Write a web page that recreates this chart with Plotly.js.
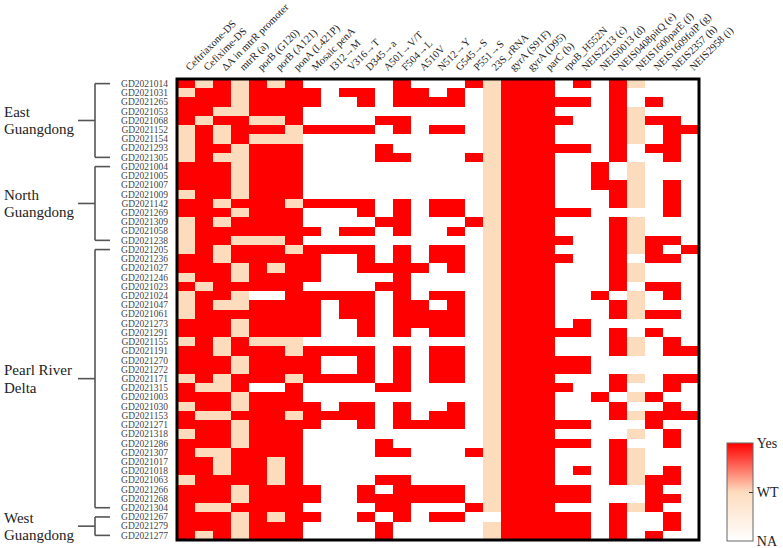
<!DOCTYPE html>
<html>
<head>
<meta charset="utf-8">
<script src="https://cdn.plot.ly/plotly-3.0.1.min.js"></script>
<style>html,body{margin:0;padding:0;background:#fff;}#chart{width:783px;height:548px;}</style>
</head>
<body>
<div id="chart"></div>
<script>
// Column (feature) labels
const features = ["Ceftriaxone-DS","Cefixime-DS","\u0394A in mtrR promoter","mtrR (a)","porB (G120)","porB (A121)","ponA (L421P)","Mosaic penA","I312\u2192M","V316\u2192T","D345\u2192a","A501\u2192V/T","F504\u2192L","A510V","N512\u2192Y","G545\u2192S","P551\u2192S","23S_rRNA","gyrA (S91F)","gyrA (D95)","parC (b)","rpoB_H552N","NEIS2213 (c)","NEIS0013 (d)","NEIS0408pitQ (e)","NEIS1600parE (f)","NEIS1609folP (g)","NEIS2357 (h)","NEIS2958 (i)"];

// Sample labels per region
const eastSamples = ["GD2021014","GD2021031","GD2021265","GD2021053","GD2021068","GD2021152","GD2021154","GD2021293","GD2021305"];
const northSamples = ["GD2021004","GD2021005","GD2021007","GD2021009","GD2021142","GD2021269","GD2021309","GD2021058","GD2021238"];
const pearlSamples = ["GD2021205","GD2021236","GD2021027","GD2021246","GD2021023","GD2021024","GD2021047","GD2021061","GD2021273","GD2021291","GD2021155","GD2021191","GD2021270","GD2021272","GD2021171","GD2021315","GD2021003","GD2021030","GD2021153","GD2021271","GD2021318","GD2021286","GD2021307","GD2021017","GD2021018","GD2021063","GD2021266","GD2021268","GD2021304"];
const westSamples = ["GD2021267","GD2021279","GD2021277"];

// Values: 1 = Yes, 0.5 = WT, 0 = NA
const eastValues = [
[1,.5,1,.5,1,.5,1, 0,0,0,0,0,1,0,0,0,1, .5, 1,1,1, 0,1,0,1,.5,0,0,0],
[.5,1,1,.5,1,1,1, 1,0,1,1,0,1,1,0,1,0, .5, 1,1,1, 0,0,0,1,0,0,0,0],
[1,1,1,.5,1,1,1, 1,0,0,1,0,1,1,1,1,0, .5, 1,1,1, 1,1,0,1,0,1,0,0],
[1,1,.5,.5,1,1,1, 0,0,0,0,0,0,0,0,0,0, .5, 1,1,1, 0,0,0,1,.5,0,0,0],
[1,.5,1,1,.5,.5,1, 0,0,0,0,1,1,0,0,0,0, .5, 1,1,1, 1,0,0,1,.5,1,1,0],
[.5,1,.5,1,1,1,.5, 1,1,1,1,0,1,0,1,1,0, .5, 1,1,1, 0,0,0,1,.5,0,1,1],
[.5,1,.5,1,.5,.5,.5, 0,0,0,0,0,0,0,0,0,0, .5, 1,1,1, 0,0,0,1,.5,0,1,0],
[.5,1,1,.5,1,1,1, 0,0,0,0,1,0,0,0,0,0, .5, 1,1,1, 1,1,0,1,0,1,1,0],
[.5,1,.5,.5,1,1,1, 0,0,0,0,1,1,0,0,0,1, .5, 1,1,1, 0,0,0,1,0,0,1,0]
];
const northValues = [
[1,1,1,.5,1,1,1, 0,0,0,0,0,0,0,0,0,0, .5, 1,1,1, 0,0,1,0,.5,0,0,0],
[1,1,1,.5,1,1,1, 0,0,0,0,0,0,0,0,0,0, .5, 1,1,1, 0,0,1,0,.5,0,0,0],
[1,1,1,.5,1,1,1, 0,0,0,0,0,0,0,0,0,0, .5, 1,1,1, 0,0,1,1,.5,0,1,0],
[.5,1,1,.5,1,1,1, 0,0,0,0,0,0,0,0,0,0, .5, 1,1,1, 0,0,0,1,.5,0,1,0],
[1,1,.5,1,1,1,.5, 1,1,1,1,0,1,0,1,1,0, .5, 1,1,1, 0,0,0,1,.5,0,1,0],
[1,1,1,.5,1,1,1, 0,0,0,1,0,1,0,1,1,0, .5, 1,1,1, 1,1,0,0,0,0,1,0],
[.5,1,.5,1,1,1,1, 0,0,0,0,1,1,0,0,0,1, .5, 1,1,1, 0,0,0,1,.5,0,0,0],
[.5,1,1,1,1,1,1, 1,0,1,1,0,1,0,0,1,0, .5, 1,1,1, 0,0,0,1,.5,0,0,0],
[.5,1,1,.5,.5,.5,1, 0,0,0,0,0,0,0,0,0,0, .5, 1,1,1, 1,0,0,1,.5,1,1,0]
];
const pearlValues = [
[.5,1,.5,1,1,1,.5, 1,1,1,1,0,1,0,1,1,0, .5, 1,1,1, 0,0,0,1,.5,1,0,1],
[1,1,.5,1,1,1,1, 1,0,0,1,0,1,0,1,1,0, .5, 1,1,1, 1,0,0,1,0,1,1,0],
[1,1,1,.5,1,.5,1, 1,0,0,1,1,1,1,0,1,0, .5, 1,1,1, 0,0,0,1,.5,0,0,0],
[.5,1,1,.5,1,1,1, 1,0,0,0,0,1,0,0,0,0, .5, 1,1,1, 0,0,0,1,.5,0,0,0],
[1,.5,1,1,1,1,1, 0,0,0,0,1,1,0,0,0,0, .5, 1,1,1, 0,0,0,1,0,1,1,0],
[.5,1,1,.5,0,0,1, 1,1,1,1,0,1,0,1,1,0, .5, 1,1,1, 0,0,1,0,.5,0,1,0],
[.5,1,.5,.5,1,1,1, 1,0,1,1,0,1,1,0,1,0, .5, 1,1,1, 0,0,0,1,.5,0,0,0],
[.5,1,1,1,1,1,1, 1,0,1,1,0,1,1,1,1,0, .5, 1,1,1, 0,0,0,1,.5,1,1,0],
[1,1,1,.5,1,1,1, 1,0,0,1,0,1,1,1,1,0, .5, 1,1,1, 0,1,0,0,0,0,0,0],
[1,1,1,.5,1,1,1, 1,0,0,1,0,1,0,1,1,0, .5, 1,1,1, 1,1,0,1,0,1,0,0],
[.5,1,.5,1,.5,.5,.5, 0,0,0,0,0,0,0,0,0,0, .5, 1,1,1, 0,0,0,1,.5,0,1,0],
[1,1,.5,1,1,1,.5, 1,1,1,1,0,1,0,1,1,0, .5, 1,1,1, 0,0,0,1,.5,0,1,1],
[1,1,1,.5,1,1,1, 1,0,0,1,0,1,0,1,1,0, .5, 1,1,1, 1,1,0,0,0,0,0,0],
[1,1,1,.5,1,1,1, 1,0,0,1,0,1,0,1,1,0, .5, 1,1,1, 1,1,0,0,0,0,0,0],
[.5,1,.5,1,1,1,.5, 1,1,1,1,0,1,0,1,1,0, .5, 1,1,1, 0,0,0,1,.5,0,1,1],
[1,.5,.5,1,0,0,1, 0,0,0,0,1,1,0,0,0,0, .5, 1,1,1, 1,0,0,1,0,0,1,0],
[1,1,1,.5,1,1,1, 0,0,0,0,0,0,0,0,0,0, .5, 1,1,1, 0,0,1,0,.5,1,0,0],
[.5,1,1,.5,1,1,1, 1,0,1,1,0,1,0,0,1,0, .5, 1,1,1, 0,0,0,1,0,0,1,0],
[1,.5,.5,1,1,1,.5, 1,1,1,1,0,1,0,1,1,0, .5, 1,1,1, 0,0,0,1,.5,1,1,1],
[1,1,1,.5,1,1,1, 1,0,0,1,0,1,1,1,1,0, .5, 1,1,1, 1,1,0,0,0,1,0,0],
[.5,1,1,.5,1,1,1, 0,0,0,0,0,0,0,0,0,0, .5, 1,1,1, 0,0,0,0,.5,0,1,0],
[1,1,1,.5,1,1,1, 0,0,0,0,1,0,0,0,0,0, .5, 1,1,1, 1,1,0,1,0,0,1,0],
[1,.5,.5,1,1,1,1, 0,0,0,0,1,1,0,0,0,1, .5, 1,1,1, 0,0,0,1,.5,0,0,0],
[1,1,.5,1,1,.5,1, 0,0,0,0,0,0,0,0,0,0, .5, 1,1,1, 0,0,0,1,.5,0,0,0],
[1,1,.5,1,1,.5,1, 0,0,0,0,0,0,0,0,0,0, .5, 1,1,1, 0,1,0,1,.5,0,1,0],
[.5,1,1,1,1,.5,1, 0,0,0,0,1,1,0,0,0,0, .5, 1,1,1, 0,0,0,1,.5,1,1,0],
[1,1,1,.5,1,1,1, 1,0,0,1,0,1,1,1,1,0, .5, 1,1,1, 1,1,0,0,0,1,0,0],
[1,1,1,.5,1,1,1, 1,0,0,1,1,1,1,1,1,0, .5, 1,1,1, 1,1,0,0,0,1,1,0],
[1,.5,.5,1,1,1,1, 0,0,0,0,1,1,0,0,0,1, .5, 1,1,1, 0,0,0,1,.5,1,0,0]
];
const westValues = [
[1,1,1,.5,1,.5,1, 1,0,0,1,0,1,0,1,1,0, 0, 1,1,1, 1,1,0,1,0,0,1,0],
[1,1,1,.5,1,1,1, 0,0,0,0,1,0,0,0,0,0, .5, 1,1,1, 1,1,0,1,0,0,1,0],
[1,.5,1,.5,1,1,1, 0,0,0,0,1,0,0,0,0,0, .5, 1,1,1, 1,1,0,1,0,1,0,0]
];

const regionNames = [["East","Guangdong"],["North","Guangdong"],["Pearl River","Delta"],["West","Guangdong"]];
const legendLabels = ["NA","WT","Yes"];

const groups = [eastSamples, northSamples, pearlSamples, westSamples];
const samples = [].concat(eastSamples, northSamples, pearlSamples, westSamples);
const z = [].concat(eastValues, northValues, pearlValues, westValues);
const rowIdx = samples.map((s,i)=>i);
const colIdx = features.map((f,i)=>i);

const serif = '"Liberation Serif","Times New Roman",Times,serif';
const W = 783, H = 548, mL = 177, mR = 84, mT = 79, mB = 8;
const pw = W - mL - mR;
const px2paper = p => (p - mL) / pw;

const shapes = [{type:'rect', xref:'paper', yref:'paper', x0:0, x1:1, y0:0, y1:1, line:{color:'#000', width:3}, layer:'above'}];
const annotations = [];
let start = 0;
groups.forEach((g, gi) => {
  const a = start, b = start + g.length - 1, m = (a + b) / 2;
  const lc = {color:'#555', width:1.6};
  shapes.push({type:'line', xref:'paper', yref:'y', x0:px2paper(95), x1:px2paper(95), y0:a, y1:b, line:lc});
  shapes.push({type:'line', xref:'paper', yref:'y', x0:px2paper(95), x1:px2paper(110), y0:a, y1:a, line:lc});
  shapes.push({type:'line', xref:'paper', yref:'y', x0:px2paper(95), x1:px2paper(110), y0:b, y1:b, line:lc});
  shapes.push({type:'line', xref:'paper', yref:'y', x0:px2paper(78), x1:px2paper(95), y0:m, y1:m, line:lc});
  annotations.push({xref:'paper', yref:'y', x:px2paper(2), y:m, xanchor:'left', yanchor:'middle', yshift:8.5, showarrow:false, text:regionNames[gi][0], font:{family:serif, size:15, color:'#222'}});
  annotations.push({xref:'paper', yref:'y', x:px2paper(2), y:m, xanchor:'left', yanchor:'middle', yshift:-9, showarrow:false, text:regionNames[gi][1], font:{family:serif, size:15, color:'#222'}});
  start += g.length;
});

const trace = {
  type:'heatmap', z:z, x:colIdx, y:rowIdx,
  zmin:0, zmax:1,
  colorscale:[[0,'#FFFFFF'],[0.5,'#FDDCBE'],[1,'#FF0000']],
  hoverinfo:'skip',
  colorbar:{
    x:px2paper(727), xanchor:'left', xpad:0, ypad:0,
    y:(H - mB - 492) / (H - mT - mB), yanchor:'middle',
    len:98, lenmode:'pixels', thickness:26, thicknessmode:'pixels',
    outlinewidth:1, outlinecolor:'#666',
    tickvals:[0.003,0.5,0.999], ticktext:legendLabels,
    ticks:'inside', ticklen:4, tickcolor:'#333',
    ticklabeloverflow:'allow',
    tickfont:{family:serif, size:14, color:'#222'}
  }
};

const layout = {
  width:W, height:H,
  margin:{l:mL, r:mR, t:mT, b:mB, pad:0, autoexpand:false},
  paper_bgcolor:'#fff', plot_bgcolor:'#fff',
  xaxis:{side:'top', range:[-0.5, features.length-0.5], tickvals:colIdx, ticktext:features, tickangle:-45, automargin:false,
         tickfont:{family:serif, size:10.5, color:'#222'}, ticks:'', showgrid:false, zeroline:false, showline:false, ticklabelstandoff:3},
  yaxis:{range:[samples.length-0.5, -0.5], tickvals:rowIdx, ticktext:samples, automargin:false,
         tickfont:{family:serif, size:9.5, color:'#444'}, ticks:'', showgrid:false, zeroline:false, showline:false, ticklabelstandoff:8},
  shapes:shapes, annotations:annotations, showlegend:false
};

Plotly.newPlot('chart', [trace], layout, {displayModeBar:false, staticPlot:true});
</script>
</body>
</html>
